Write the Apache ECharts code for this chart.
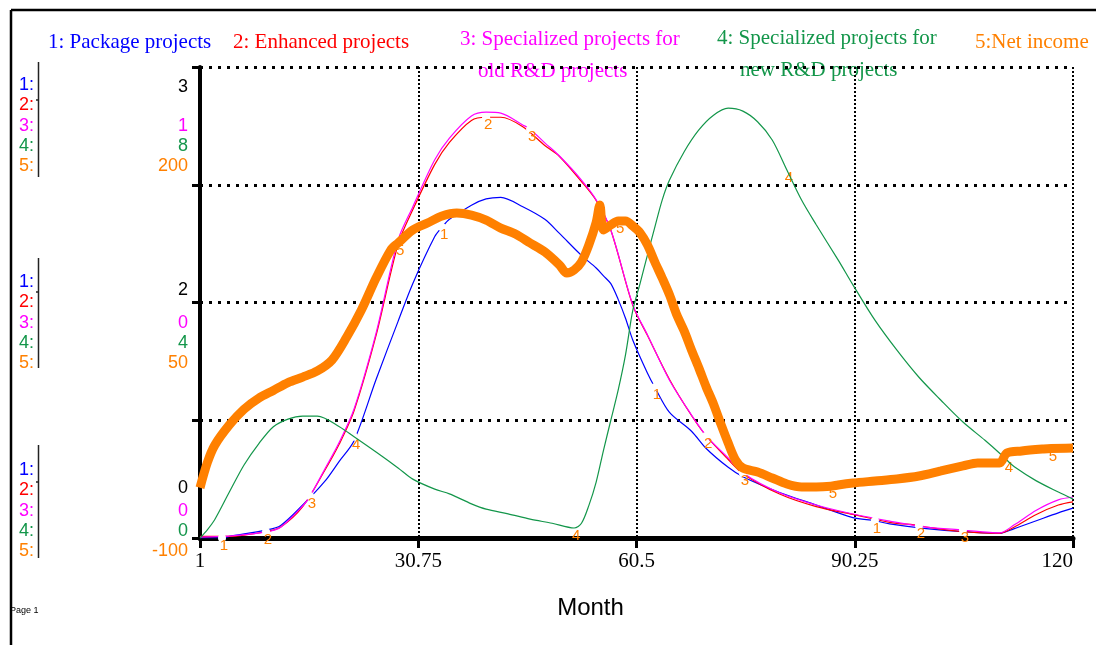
<!DOCTYPE html>
<html><head><meta charset="utf-8">
<script src="https://cdn.jsdelivr.net/npm/echarts@6/dist/echarts.min.js"></script>
<style>html,body{margin:0;padding:0;background:#fff}#c{width:1096px;height:645px}</style>
</head><body><div id="c"></div>
<script>
// ---- titles / legend texts ----
const seriesTitles = [
  ['1: Package projects'],
  ['2: Enhanced projects'],
  ['3: Specialized projects for', 'old R&D projects'],
  ['4: Specialized projects for', 'new R&D projects'],
  ['5:Net income']
];
const seriesColors = ['#0000FF', '#FF0000', '#FF00FF', '#13964A', '#FF8000'];

// ---- series data (months, values) ----
const pkgMonths = [1,4,5,10,12,15,18,20,22,25,28,30,33,34,35,38,40,42,45,48,50,53,55,56,57,58,59,60,62,63,65,68,70,73,75,80,85,90,93,95,100,105,110,112,115,118,120];
const pkgValues = [0.00,0.00,0.01,0.05,0.08,0.21,0.36,0.49,0.62,1.01,1.38,1.62,1.92,1.98,2.03,2.12,2.16,2.17,2.11,2.03,1.94,1.80,1.72,1.67,1.62,1.52,1.40,1.26,1.05,0.96,0.80,0.68,0.57,0.45,0.39,0.29,0.21,0.13,0.11,0.09,0.06,0.04,0.03,0.06,0.11,0.16,0.19];

const enhMonths = [1,5,10,12,15,18,20,22,25,28,30,33,35,38,40,42,45,48,50,53,55,57,60,62,65,68,70,73,75,80,85,90,95,99,100,105,110,112,115,118,120];
const enhValues = [0.01,0.01,0.04,0.07,0.20,0.43,0.60,0.81,1.29,1.87,2.09,2.38,2.52,2.66,2.68,2.68,2.62,2.50,2.43,2.27,2.15,1.96,1.48,1.29,1.01,0.78,0.65,0.50,0.41,0.28,0.20,0.15,0.10,0.08,0.07,0.04,0.03,0.07,0.15,0.21,0.23];

const oldMonths = [1,5,10,12,15,16,18,20,22,25,28,30,33,35,38,40,42,45,46,48,50,53,55,57,60,62,65,68,70,73,75,80,85,90,95,100,105,110,112,115,118,120];
const oldValues = [0.002,0.004,0.013,0.023,0.068,0.089,0.146,0.204,0.274,0.435,0.633,0.703,0.803,0.849,0.896,0.904,0.902,0.877,0.868,0.839,0.811,0.760,0.718,0.654,0.495,0.431,0.335,0.261,0.217,0.170,0.138,0.096,0.070,0.051,0.036,0.023,0.017,0.011,0.028,0.059,0.081,0.087];

const newMonths = [1,2,3,5,7,9,11,13,15,17,20,22,25,28,30,33,35,38,40,43,46,49,52,53,54,55,56,57,58,59,60,61,62,63,64,65,67,69,71,73,75,77,79,81,83,85,88,90,93,96,99,102,105,108,110,111,112,115,118,120];
const newValues = [0,0.14,0.31,0.78,1.24,1.60,1.89,2.02,2.07,2.07,1.89,1.72,1.46,1.19,1.00,0.83,0.75,0.58,0.49,0.41,0.32,0.25,0.17,0.25,0.55,0.95,1.49,2.00,2.51,3.11,3.87,4.33,4.81,5.28,5.74,6.08,6.56,6.93,7.18,7.30,7.25,7.07,6.76,6.25,5.74,5.32,4.72,4.30,3.70,3.19,2.73,2.34,1.97,1.66,1.44,1.32,1.21,0.97,0.78,0.66];

const incMonths = [1,2,3,5,7,9,11,13,15,17,19,21,23,25,27,28,30,32,34,36,38,40,42,44,46,48,50,51,52,53,54,55,55.5,56,57,58,59,60,61,62,63,64,65,66,67,68,69,70,71,72,73,74,75,77,79,81,83,85,87,88,90,93,96,99,102,105,107,109,110,111,113,116,117,120];
const incValues = [-68,-52,-41,-28,-18,-11,-6,-1,2.5,6.4,13.4,28,45.2,65.6,83.4,87.9,96.2,100.6,105.1,107,105.7,102.5,97.4,93.6,87.9,82.2,73.9,68.8,70.7,75.8,86.6,101,112.1,96.2,99.4,101.9,101.9,98.7,94.3,86.6,75.8,65.6,54.8,42,31.8,19.7,8.3,-3.8,-14.7,-27.4,-39.5,-50.3,-55.4,-58,-61.8,-65.6,-67.5,-67.5,-67,-66.2,-65,-63.7,-62.4,-60.5,-57.3,-54.1,-52.2,-52.2,-52.2,-45.9,-44.6,-43.3,-43,-42.7];

// ---- scales / ticks ----
const xTicks = [1, 30.75, 60.5, 90.25, 120];
const axisRanges = [[0, 3], [0, 1], [0, 8], [-100, 200]];
const seriesAxis = [0, 0, 1, 2, 3];
const scaleTop = ['3', '', '1', '8', '200'];
const scaleMid = ['2', '', '0', '4', '50'];
const scaleBottom = ['0', '', '0', '0', '-100'];
// months where the numbered line markers sit
const markerMonths = [[4,34,63,93],[10,40,70,99],[16,46,75,105],[22,52,81,111],[28,58,87,117]];

const allMonths = [pkgMonths, enhMonths, oldMonths, newMonths, incMonths];
const allValues = [pkgValues, enhValues, oldValues, newValues, incValues];

const chart = echarts.init(document.getElementById('c'), null, {renderer: 'canvas'});

const series = allMonths.map((months, i) => ({
  type: 'line',
  name: seriesTitles[i].join(' '),
  yAxisIndex: seriesAxis[i],
  data: months.map((m, k) => [m, allValues[i][k]]),
  showSymbol: false,
  symbol: 'none',
  smooth: 0.3,
  lineStyle: {color: seriesColors[i], width: i === 4 ? 9 : 1.2, cap: 'butt'},
  itemStyle: {color: seriesColors[i]},
  z: 2 + i,
  markPoint: {
    symbol: 'circle',
    symbolSize: i === 4 ? 13 : 8,
    itemStyle: {color: '#ffffff'},
    label: {show: true, formatter: String(i + 1), color: '#FF8000', fontSize: 15,
            fontFamily: 'Liberation Sans', offset: [2, 8]},
    data: markerMonths[i].map(m => {
      const k = months.indexOf(m);
      return {coord: [m, allValues[i][k]]};
    })
  }
}));

const yAxes = axisRanges.map((r, i) => i === 0 ? {
  type: 'value', min: r[0], max: r[1], interval: 0.75, position: 'left',
  axisLine: {show: true, lineStyle: {color: '#000', width: 4}},
  axisTick: {show: true, length: 8, lineStyle: {color: '#000', width: 3}},
  axisLabel: {show: false},
  splitLine: {show: true, lineStyle: {color: '#000', type: [3, 6], width: 3}}
} : {
  type: 'value', min: r[0], max: r[1], show: false, splitLine: {show: false}
});

// ---- graphic texts ----
const graphics = [];
const line = (x1, y1, x2, y2, w, c) => graphics.push({type: 'line', shape: {x1, y1, x2, y2}, style: {stroke: c || '#000', lineWidth: w}, silent: true});
line(11, 10, 1096, 10, 2.5);
line(11, 10, 11, 645, 2.5);

// title texts
const titlePos = [[48, 44], [233, 44], [460, 41], [717, 40], [975, 44]];
const secondLinePos = [null, null, [478, 73], [740, 72], null];
const titleFont = '21px "Liberation Serif"';
seriesTitles.forEach((t, i) => {
  graphics.push({type: 'text', left: titlePos[i][0], top: titlePos[i][1] - 12,
    style: {text: t[0], fill: seriesColors[i], font: titleFont}});
  if (t[1]) graphics.push({type: 'text', left: secondLinePos[i][0], top: secondLinePos[i][1] - 12,
    style: {text: t[1], fill: seriesColors[i], font: titleFont}});
});

// left scale panel
const groupRowY = [85, 282, 470];
const blackY = [87, 290, 488];
const panelLines = [[62, 177, 100], [258, 368, 292], [445, 558, 482]];
const scales = [scaleTop, scaleMid, scaleBottom];
groupRowY.forEach((y0, g) => {
  for (let i = 0; i < 5; i++) {
    graphics.push({type: 'text', x: 19, y: y0 + i * 20.3,
      style: {text: (i + 1) + ':', fill: seriesColors[i], font: '18px "Liberation Sans"', textVerticalAlign: 'middle'}});
  }
  graphics.push({type: 'text', x: 188, y: blackY[g],
    style: {text: scales[g][0], fill: '#000', font: '18px "Liberation Sans"', textAlign: 'right', textVerticalAlign: 'middle'}});
  for (let i = 2; i < 5; i++) {
    graphics.push({type: 'text', x: 188, y: y0 + i * 20.3,
      style: {text: scales[g][i], fill: seriesColors[i], font: '18px "Liberation Sans"', textAlign: 'right', textVerticalAlign: 'middle'}});
  }
  const pl = panelLines[g];
  line(38.5, pl[0], 38.5, pl[1], 1.5, '#222');
  line(36, pl[2], 39, pl[2], 1.5, '#222');
});
graphics.push({type: 'text', x: 10, y: 606, style: {text: 'Page 1', fill: '#000', font: '9px "Liberation Sans"'}});

chart.setOption({
  animation: false,
  backgroundColor: '#fff',
  grid: {left: 200, right: 23, top: 67, bottom: 107, containLabel: false},
  xAxis: {
    type: 'value', min: 1, max: 120,
    name: 'Month', nameLocation: 'middle', nameGap: 58,
    nameTextStyle: {fontFamily: 'Liberation Sans', fontSize: 24, color: '#000', padding: [0, 92, 0, 0]},
    axisLine: {lineStyle: {color: '#000', width: 5}},
    axisTick: {customValues: xTicks, length: 10, lineStyle: {color: '#000', width: 3}},
    axisLabel: {customValues: xTicks, color: '#000', fontFamily: 'Liberation Serif', fontSize: 21, margin: 13,
                alignMaxLabel: 'right', formatter: v => String(v)},
    splitLine: {show: true, lineStyle: {color: '#000', type: [2, 2], width: 2}}
  },
  yAxis: yAxes,
  series: series,
  graphic: graphics
});
</script>
</body></html>
